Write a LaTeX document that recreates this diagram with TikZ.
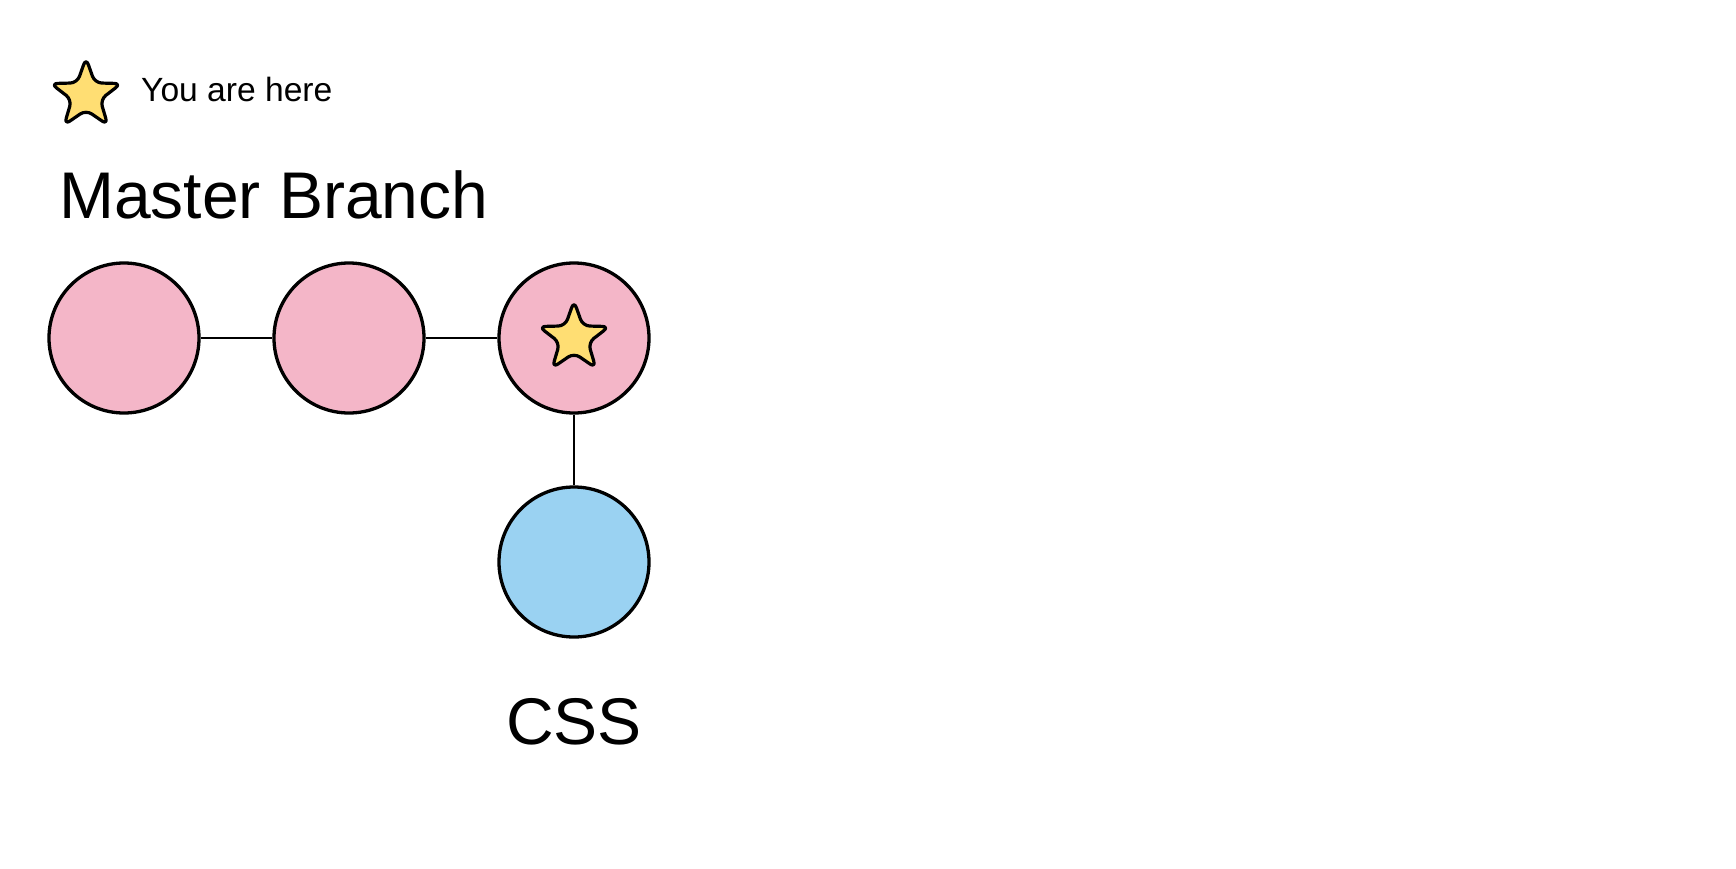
\documentclass[tikz,border=0pt]{standalone}
\usepackage{fontspec}
\setmainfont{Liberation Sans}
\definecolor{commitpink}{RGB}{244,182,200}
\definecolor{commitblue}{RGB}{154,210,242}
\definecolor{staryellow}{RGB}{255,222,115}
\begin{document}
\begin{tikzpicture}[x=1pt,y=-1pt,
  commit/.style={circle,draw=black,line width=3.3pt,minimum size=150pt,inner sep=0pt},
  link/.style={draw=black,line width=2.6pt},
  lbl/.style={inner sep=0pt,text=black},
  starpic/.pic={
    \draw[fill=staryellow,line width=3.2pt,line join=round,rounded corners=7pt]
      (90:-37) -- (126:-15) -- (162:-37) -- (198:-15) -- (234:-37) -- (270:-15)
      -- (306:-37) -- (342:-15) -- (18:-37) -- (54:-15) -- cycle;
  }]
\useasboundingbox[fill=white] (0,0) rectangle (1736,868);
% legend
\pic at (86,95) {starpic};
\node[lbl,anchor=base west,font=\fontsize{33.6}{40}\selectfont] (legend) at (141,101) {You are here};
% title
\node[lbl,anchor=base west,font=\fontsize{66}{79}\selectfont] (title) at (59,218) {Master Branch};
% commits
\node[commit,fill=commitpink] (c1) at (124,338) {};
\node[commit,fill=commitpink] (c2) at (349,338) {};
\node[commit,fill=commitpink] (c3) at (574,338) {};
\node[commit,fill=commitblue] (c4) at (574,562) {};
\pic at (574,338) {starpic};
\path[link] (c1) -- (c2);
\path[link] (c2) -- (c3);
\path[link] (c3) -- (c4);
\node[lbl,anchor=base,font=\fontsize{66}{79}\selectfont] (css) at (574,744) {CSS};
\end{tikzpicture}
\end{document}
